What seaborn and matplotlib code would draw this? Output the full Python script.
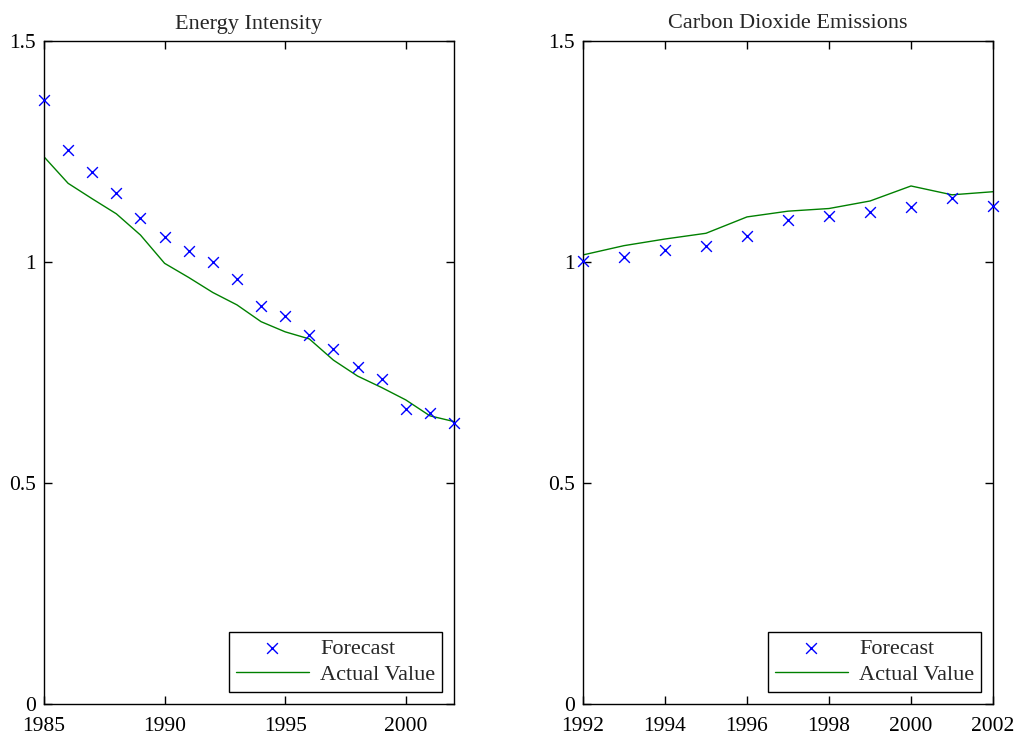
import matplotlib
matplotlib.use("Agg")
import matplotlib.pyplot as plt
import seaborn as sns
import pandas as pd

# Energy Intensity
ei_years = list(range(1985, 2003))
ei_forecast = [1.367, 1.253, 1.203, 1.157, 1.100, 1.057, 1.025, 1.001, 0.961,
               0.901, 0.878, 0.834, 0.803, 0.763, 0.736, 0.668, 0.659, 0.636]
ei_actual = [1.238, 1.178, 1.143, 1.109, 1.061, 0.997, 0.965, 0.931, 0.903,
             0.865, 0.842, 0.826, 0.778, 0.742, 0.716, 0.688, 0.652, 0.639]

# Carbon Dioxide Emissions
co2_years = list(range(1992, 2003))
co2_forecast = [1.003, 1.012, 1.027, 1.036, 1.059, 1.095, 1.104, 1.114, 1.125, 1.144, 1.127]
co2_actual = [1.016, 1.037, 1.052, 1.065, 1.102, 1.115, 1.121, 1.138, 1.172, 1.152, 1.159]

titles = ["Energy Intensity", "Carbon Dioxide Emissions"]
y_ticks = [0, 0.5, 1, 1.5]
y_ticklabels = ["0", "0.5", "1", "1.5"]
ei_xticks = [1985, 1990, 1995, 2000]
co2_xticks = [1992, 1994, 1996, 1998, 2000, 2002]

sns.set_style("ticks")
plt.rcParams['font.family'] = ['Liberation Serif', 'DejaVu Serif']

fig = plt.figure(figsize=(10.18, 7.37), dpi=100)
ax1 = fig.add_axes([44/1018, 33/737, 410/1018, 663/737])
ax2 = fig.add_axes([583/1018, 33/737, 410/1018, 663/737])

panels = [
    (ax1, ei_years, ei_forecast, ei_actual, ei_xticks, titles[0]),
    (ax2, co2_years, co2_forecast, co2_actual, co2_xticks, titles[1]),
]

for ax, yrs, fc, act, xt, title in panels:
    df = pd.DataFrame({"year": yrs, "forecast": fc, "actual": act})
    sns.scatterplot(data=df, x="year", y="forecast", ax=ax, marker="x",
                    color=(0, 0, 1), s=60, linewidth=1.0, label="Forecast",
                    zorder=3, clip_on=False)
    sns.lineplot(data=df, x="year", y="actual", ax=ax, color=(0, 0.5, 0),
                 linewidth=1.0, label="Actual Value", zorder=2)
    ax.set_xlim(yrs[0], yrs[-1])
    ax.set_ylim(0, 1.5)
    ax.set_xticks(xt)
    ax.set_xticklabels([str(v) for v in xt])
    ax.set_yticks(y_ticks)
    ax.set_yticklabels(y_ticklabels)
    ax.set_xlabel("")
    ax.set_ylabel("")
    ax.set_title(title, fontsize=16, pad=9)
    for sp in ax.spines.values():
        sp.set_visible(True)
        sp.set_color("black")
        sp.set_linewidth(1.0)
    ax.tick_params(direction="in", length=6, width=1, top=True, right=True,
                   labelsize=15.5, colors="black")
    ax.tick_params(axis="x", pad=9.5)
    ax.tick_params(axis="y", pad=6)
    leg = ax.legend(loc="lower right", frameon=True, fancybox=False,
                    edgecolor="black", fontsize=16, handlelength=3.3,
                    borderaxespad=0.55, labelspacing=0.25, handletextpad=0.5,
                    borderpad=0.3)
    leg.get_frame().set_linewidth(1.0)
    leg.get_frame().set_alpha(1)

fig.savefig("out.png", dpi=100)
